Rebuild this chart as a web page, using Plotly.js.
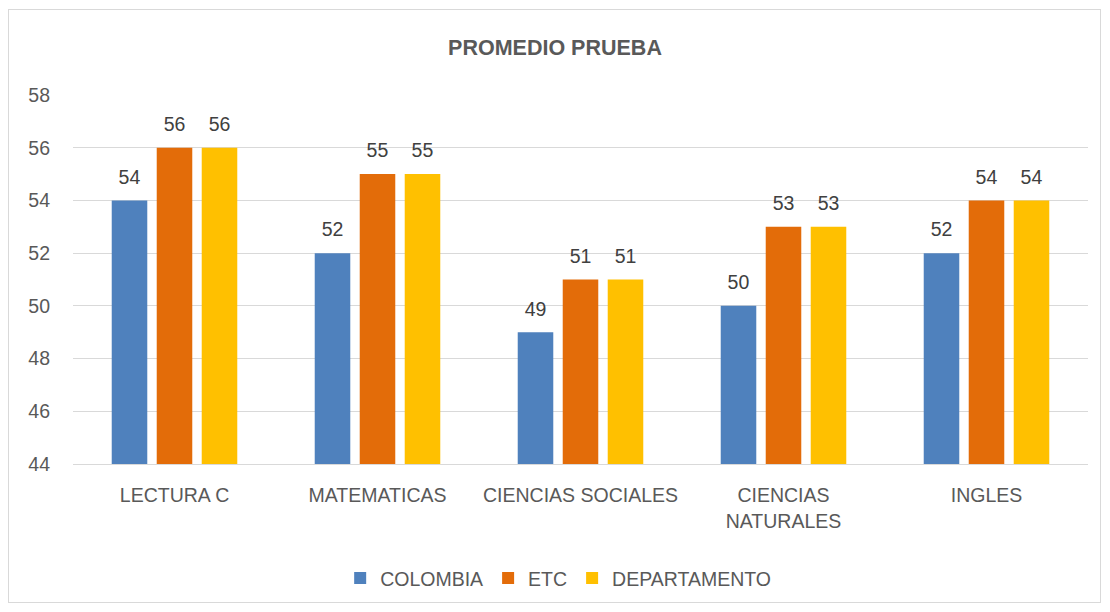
<!DOCTYPE html>
<html>
<head>
<meta charset="utf-8">
<script src="https://cdn.plot.ly/plotly-3.0.1.min.js"></script>
<style>
html,body{margin:0;padding:0;background:#fff;}
#chart{width:1110px;height:612px;position:relative;}
#frame{position:absolute;left:8px;top:9px;width:1093px;height:594px;border:1px solid #d9d9d9;pointer-events:none;box-sizing:border-box;}
</style>
</head>
<body>
<div id="chart"></div>
<div id="frame"></div>
<script>
const categories = ["LECTURA C", "MATEMATICAS", "CIENCIAS SOCIALES", "CIENCIAS<br>NATURALES", "INGLES"];
const seriesNames = ["COLOMBIA", "ETC", "DEPARTAMENTO"];
const colombia = [54, 52, 49, 50, 52];
const etc = [56, 55, 51, 53, 54];
const departamento = [56, 55, 51, 53, 54];
const colors = ["#4F81BD", "#E36C09", "#FFC000"];

const FONT = "Liberation Sans, Arial, sans-serif";
const values = [colombia, etc, departamento];
const data = values.map((v, i) => ({
  type: "bar",
  name: seriesNames[i],
  x: categories,
  y: v,
  marker: {color: colors[i]},
  text: v.map(String),
  texttemplate: '<span style="font-size:19.5px">%{text}</span><br> ',
  textposition: "outside",
  cliponaxis: false,
  textfont: {family: FONT, size: 9, color: "#404040"},
  hoverinfo: "x+y+name"
}));

const layout = {
  width: 1110,
  height: 612,
  paper_bgcolor: "rgba(0,0,0,0)",
  plot_bgcolor: "#ffffff",
  margin: {l: 73, r: 22, t: 95, b: 148},
  title: {
    text: "<b>PROMEDIO PRUEBA</b>",
    font: {family: FONT, size: 21.5, color: "#595959"},
    x: 0.5, xanchor: "center", y: 0.923, yanchor: "middle"
  },
  barmode: "group",
  bargap: 0.335,
  bargroupgap: 0.21,
  font: {family: FONT, size: 19.5, color: "#595959"},
  xaxis: {
    type: "category",
    showgrid: false,
    showline: true,
    linecolor: "#d9d9d9",
    linewidth: 1,
    ticks: "",
    ticklabelstandoff: 14,
    tickfont: {family: FONT, size: 19.5, color: "#595959"}
  },
  yaxis: {
    range: [44, 58],
    dtick: 2,
    tick0: 44,
    showgrid: true,
    gridcolor: "#d9d9d9",
    gridwidth: 1,
    zeroline: false,
    showline: false,
    ticks: "",
    ticklabelstandoff: 22,
    tickfont: {family: FONT, size: 19.5, color: "#595959"}
  },
  showlegend: true,
  legend: {
    orientation: "h",
    x: 0.478, xanchor: "center",
    y: -0.31, yanchor: "middle",
    font: {family: FONT, size: 19.5, color: "#595959"},
    itemwidth: 30,
    traceorder: "normal"
  }
};

Plotly.newPlot("chart", data, layout, {displayModeBar: false, staticPlot: true});
</script>
</body>
</html>
